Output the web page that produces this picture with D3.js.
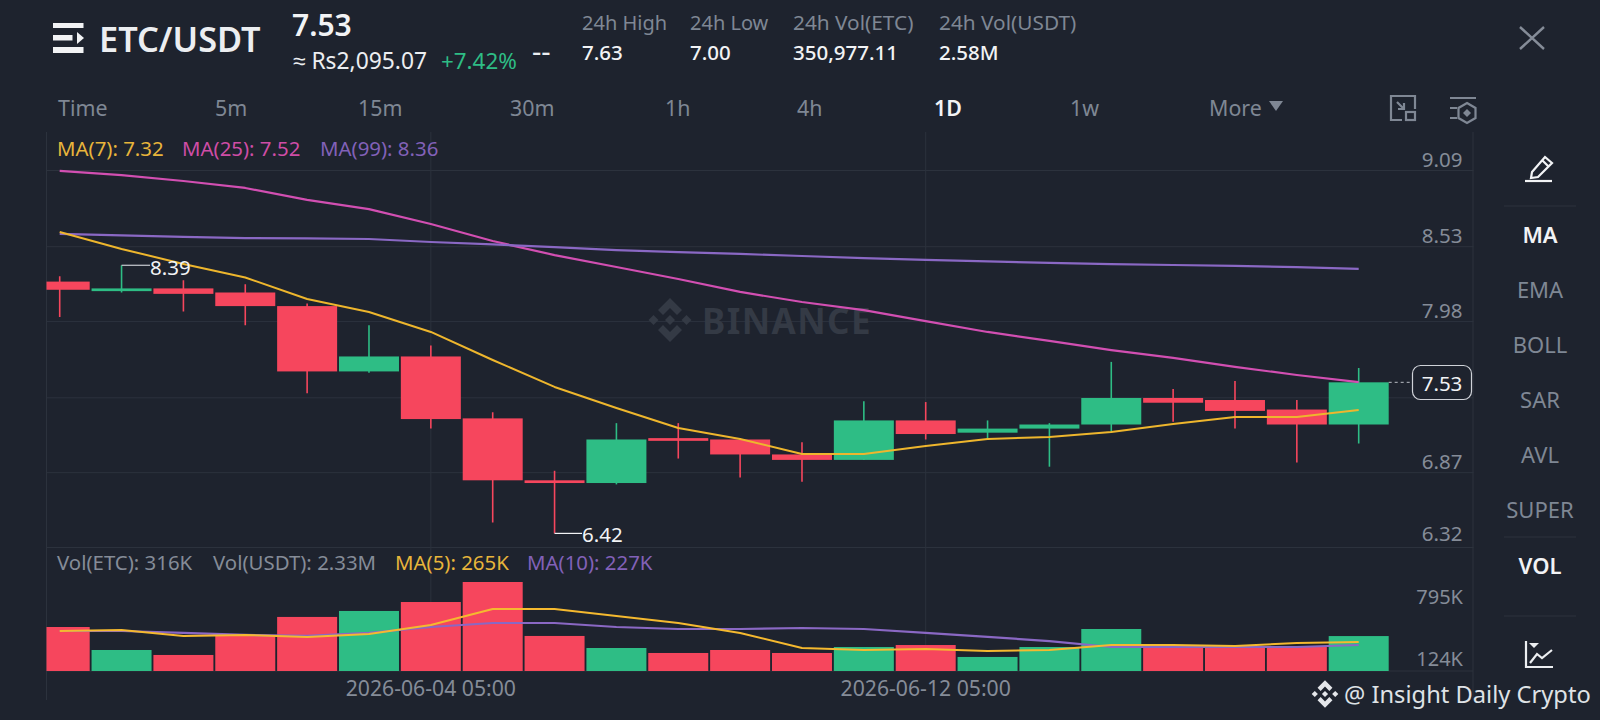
<!DOCTYPE html>
<html><head><meta charset="utf-8">
<script src="https://cdn.jsdelivr.net/npm/d3@7/dist/d3.min.js"></script>
<style>html,body{margin:0;padding:0;background:#1e232e;overflow:hidden}svg{display:block}text{font-family:"Noto Sans",sans-serif}</style>
</head><body><svg id="c" width="1600" height="720"></svg>
<script>
const opens =[8.27,8.20,8.22,8.19,8.09,7.61,7.72,7.265,6.81,6.79,7.12,7.11,7.00,6.96,7.25,7.16,7.19,7.22,7.415,7.40,7.33,7.22];
const closes=[8.21,8.22,8.18,8.09,7.61,7.72,7.26,6.81,6.79,7.11,7.10,7.00,6.96,7.25,7.15,7.19,7.22,7.415,7.38,7.32,7.22,7.53];
const highs =[8.31,8.39,8.28,8.25,8.11,7.95,7.80,7.31,6.88,7.23,7.23,7.12,7.09,7.39,7.385,7.25,7.23,7.68,7.48,7.54,7.40,7.635];
const lows  =[8.01,8.19,8.05,7.95,7.45,7.60,7.19,6.50,6.42,6.78,6.97,6.83,6.80,6.96,7.11,7.11,6.91,7.16,7.24,7.19,6.94,7.08];
const ma7 =[8.634,8.51,8.40,8.30,8.142,8.047,7.90,7.694,7.496,7.341,7.194,7.114,7.003,7.003,7.062,7.114,7.128,7.165,7.224,7.275,7.275,7.327];
const ma25=[9.083,9.053,9.009,8.958,8.87,8.803,8.693,8.568,8.465,8.377,8.289,8.194,8.12,8.061,7.98,7.90,7.834,7.767,7.709,7.643,7.584,7.532];
const ma99=[8.62,8.609,8.598,8.59,8.587,8.583,8.561,8.543,8.524,8.502,8.487,8.473,8.458,8.443,8.429,8.418,8.407,8.399,8.392,8.385,8.377,8.363];
const vols=[398,190,145,317,489,543,624,805,317,208,163,190,163,217,235,127,217,380,208,208,217,316];
const volMa5=[362,371,317,326,308,335,416,561,561,498,434,344,208,190,199,181,190,235,235,226,253,262];
const volMa10=[362,362,344,326,317,344,398,434,434,398,380,380,389,380,344,308,271,217,217,217,217,235];
const priceTicks=[9.09,8.53,7.98,7.42,6.87,6.32];
const priceLabels=["9.09","8.53","7.98","","6.87","6.32"];
const volTickValues=[124,683];
const volTickLabels=["124K","795K"];
const dateIdx=[6,14];
const dateLabels=["2026-06-04 05:00","2026-06-12 05:00"];
const tabs=["Time","5m","15m","30m","1h","4h","1D","1w","More"];
const sideBtns=["MA","EMA","BOLL","SAR","AVL","SUPER","VOL"];

const UP="#2ebd85",DN="#f6465d",GRID="#2c323d",AX="#858c98";
const svg=d3.select("#c");
const x=d3.scaleLinear().domain([0,21]).range([59.7,1358.7]);
const y=d3.scaleLinear().domain([6.32,9.09]).range([547,170]);
const yv=d3.scaleLinear().domain([0,805]).range([671,582]);
const bw=60;

function t(s,px,py,size,fill,anchor,weight){return svg.append("text").attr("x",px).attr("y",py).attr("font-size",size).attr("fill",fill)
  .attr("text-anchor",anchor||"start").attr("dominant-baseline","central").attr("font-weight",weight||400).text(s);}

function binanceLogo(cx,cy,s,fill){
  const p=svg.append("g").attr("transform",`translate(${cx},${cy}) scale(${s})`).attr("fill",fill);
  p.append("path").attr("d","M0 -22 L12 -10 L7 -5 L0 -12 L-7 -5 L-12 -10Z");
  p.append("path").attr("d","M0 22 L12 10 L7 5 L0 12 L-7 5 L-12 10Z");
  p.append("path").attr("d","M-16.500 -5 L-11.500 0 L-16.500 5 L-21.500 0Z");
  p.append("path").attr("d","M16.500 -5 L21.500 0 L16.500 5 L11.500 0Z");
  p.append("path").attr("d","M0 -5 L5 0 L0 5 L-5 0Z");
}

// grid
svg.append("defs").append("clipPath").attr("id","pl").append("rect").attr("x",46.5).attr("y",130).attr("width",1427).attr("height",560);
const yAxis=d3.axisRight(y).tickValues(priceTicks).tickSize(1427).tickFormat((d,i)=>priceLabels[i]);
const ga=svg.append("g").attr("transform","translate(46.5,0)").call(yAxis);
ga.select(".domain").remove();
ga.selectAll("line").attr("stroke",GRID);
ga.selectAll("text").attr("x",1416).attr("dy",0).attr("y",(d,i)=>i===5?-15:-12).attr("text-anchor","end").attr("fill",AX).attr("font-size",20.5).attr("dominant-baseline","central").style("font-family",'"Noto Sans"');
svg.append("line").attr("x1",46.5).attr("x2",1473).attr("y1",671).attr("y2",671).attr("stroke",GRID);
[46.5,1473].forEach(v=>svg.append("line").attr("x1",v).attr("x2",v).attr("y1",132).attr("y2",700).attr("stroke",GRID));
svg.selectAll(".vg").data(dateIdx).join("line").attr("x1",d=>x(d)).attr("x2",d=>x(d)).attr("y1",132).attr("y2",671).attr("stroke",GRID);

// watermark
binanceLogo(670,320,1,"#343a45");
t("BINANCE",702,320,35,"#343a45","start",700).attr("letter-spacing",1.4);

// candles
const g=svg.append("g").attr("clip-path","url(#pl)");
const idx=d3.range(opens.length);
const col=i=>closes[i]>=opens[i]?UP:DN;
g.selectAll(".wick").data(idx).join("line").attr("x1",i=>x(i)).attr("x2",i=>x(i)).attr("y1",i=>y(highs[i])).attr("y2",i=>y(lows[i])).attr("stroke",col).attr("stroke-width",1.6);
g.selectAll(".body").data(idx).join("rect").attr("x",i=>x(i)-bw/2).attr("width",bw)
  .attr("y",i=>y(Math.max(opens[i],closes[i]))).attr("height",i=>Math.max(2.5,Math.abs(y(opens[i])-y(closes[i])))).attr("fill",col);
g.selectAll(".vb").data(idx).join("rect").attr("x",i=>x(i)-bw/2).attr("width",bw)
  .attr("y",i=>yv(vols[i])).attr("height",i=>yv(0)-yv(vols[i])).attr("fill",col);

// lines
const L=(arr,sc,c,w)=>svg.append("path").attr("d",d3.line().x((d,i)=>x(i)).y(d=>sc(d))(arr)).attr("fill","none").attr("stroke",c).attr("stroke-width",w||1.7).attr("stroke-linejoin","round");
L(ma25,y,"#d24fb2",2.2);L(ma99,y,"#8a68c4",2.2);L(ma7,y,"#eeb62d",2);
L(volMa10,yv,"#8a68c4",2.2);L(volMa5,yv,"#f5b92f",2);

// high / low markers
const hiI=highs.indexOf(d3.max(highs.slice(0,3))), loI=lows.indexOf(d3.min(lows));
svg.append("line").attr("x1",x(hiI)).attr("x2",150).attr("y1",y(8.39)).attr("y2",y(8.39)).attr("stroke","#c9ccd2").attr("stroke-width",1.2);
t("8.39",150,y(8.39)+2,20.5,"#f2f3f5");
svg.append("line").attr("x1",x(loI)).attr("x2",582).attr("y1",y(6.42)).attr("y2",y(6.42)).attr("stroke","#f2f3f5").attr("stroke-width",1.2);
t("6.42",582,y(6.42)+1,20.5,"#f2f3f5");

// last price
svg.append("line").attr("x1",x(21)+30).attr("x2",1412).attr("y1",y(7.53)).attr("y2",y(7.53)).attr("stroke","#b9bdc4").attr("stroke-dasharray","3 3");
svg.append("rect").attr("x",1412.5).attr("y",365.5).attr("width",59).attr("height",34).attr("rx",8).attr("fill","#1e232e").attr("stroke","#cfd2d8").attr("stroke-width",1.2);
t("7.53",1442,y(7.53)+1,20.5,"#f2f3f5","middle");

// volume axis labels
volTickValues.forEach((v,i)=>t(volTickLabels[i],1463,yv(v)+1,20,AX,"end"));
// dates
dateIdx.forEach((d,i)=>t(dateLabels[i],x(d),687,21.2,AX,"middle"));

// legends
const legend=(items,py,fs)=>items.forEach(a=>t(a[0],a[1],py,fs,a[2]));
legend([["MA(7): 7.32",57,"#e8b53b"],["MA(25): 7.52",182,"#cf4da6"],["MA(99): 8.36",320,"#8261b8"]],148,20.4);
legend([["Vol(ETC): 316K",57,"#858c98"],["Vol(USDT): 2.33M",213,"#858c98"],["MA(5): 265K",395,"#e8b53b"],["MA(10): 227K",527,"#8261b8"]],562,20.4);

// header
const hi=svg.append("g").attr("fill","#f2f3f5");
hi.append("rect").attr("x",53).attr("y",23).attr("width",30.5).attr("height",5);
hi.append("rect").attr("x",53).attr("y",35).attr("width",19.5).attr("height",5.500);
hi.append("rect").attr("x",53).attr("y",47).attr("width",30.5).attr("height",6);
hi.append("path").attr("d","M77 32 l7 6 -7 6z");
t("ETC/USDT",99,38,34.3,"#eceef1","start",600);
t("7.53",292,24,30,"#f2f3f5","start",600);
t("≈ Rs2,095.07",293,60,22.8,"#eceef1");
t("+7.42%",441,60,22.4,"#2ebd85");
t("--",532,50,29,"#eceef1");
[["24h High","7.63",582,20],["24h Low","7.00",690,20],["24h Vol(ETC)","350,977.11",793,20.8],["24h Vol(USDT)","2.58M",939,20.8]].forEach(a=>{
  t(a[0],a[2],22,a[3],"#7f8794");t(a[1],a[2],52,20.5,"#f2f3f5","start",500);});
svg.append("path").attr("d","M1520 27 L1544 49 M1544 27 L1520 49").attr("stroke","#858c98").attr("stroke-width",2.4).attr("fill","none");

// tabs
const tabX=[58,215,358,510,665,797,934,1070,1209];
tabs.forEach((s,i)=>t(s,tabX[i],107,21.4,s==="1D"?"#f2f3f5":"#7f8794","start",s==="1D"?600:400));
svg.append("path").attr("d","M1269 101 h14 l-7 10z").attr("fill","#7f8794");
// tool icons
const ic=svg.append("g").attr("fill","none").attr("stroke","#7f8794").attr("stroke-width",2.2);
ic.append("path").attr("d","M1415 109 V96 H1391 V120 H1402");
ic.append("rect").attr("x",1406).attr("y",112).attr("width",9).attr("height",8);
ic.append("path").attr("d","M1397 102 l7 7 M1404 103 v6 h-6");
ic.append("path").attr("d","M1450 98 H1476 M1450 108 H1457 M1450 118 H1457");
ic.append("path").attr("d","M1467 103 l8.500 5 v10 l-8.500 5 l-8.500 -5 v-10z");
ic.append("path").attr("d","M1467 109 l4 4 -4 4 -4 -4z").attr("fill","#7f8794").attr("stroke","none");

// side
const sideY=[234,289,344,399,454,509,565];
sideBtns.forEach((s,i)=>{const on=s==="MA"||s==="VOL";t(s,1540,sideY[i],22,on?"#f2f3f5":"#7f8794","middle",on?600:400);});
[206,537,616].forEach(v=>svg.append("line").attr("x1",1504).attr("x2",1576).attr("y1",v).attr("y2",v).attr("stroke",GRID));
const pi=svg.append("g").attr("fill","none").attr("stroke","#f2f3f5").attr("stroke-width",2.2);
pi.append("path").attr("d","M1532 172 L1545 157 L1552 163 L1538 177 L1531 178z M1542 160 L1549 167");
pi.append("path").attr("d","M1525 181 H1552");
const ci=svg.append("g").attr("fill","none").attr("stroke","#eceef1").attr("stroke-width",2.2);
ci.append("path").attr("d","M1526 641 V667 H1553");
ci.append("path").attr("d","M1530 663 L1537 654 L1542 658 L1552 650");
ci.append("path").attr("d","M1529 643 h10 l-5 5z").attr("fill","#eceef1").attr("stroke","none");

// credit
binanceLogo(1325,694,0.62,"#e4e6ea");
t("@ Insight Daily Crypto",1344,694,23.7,"#dfe2e6");
</script></body></html>
